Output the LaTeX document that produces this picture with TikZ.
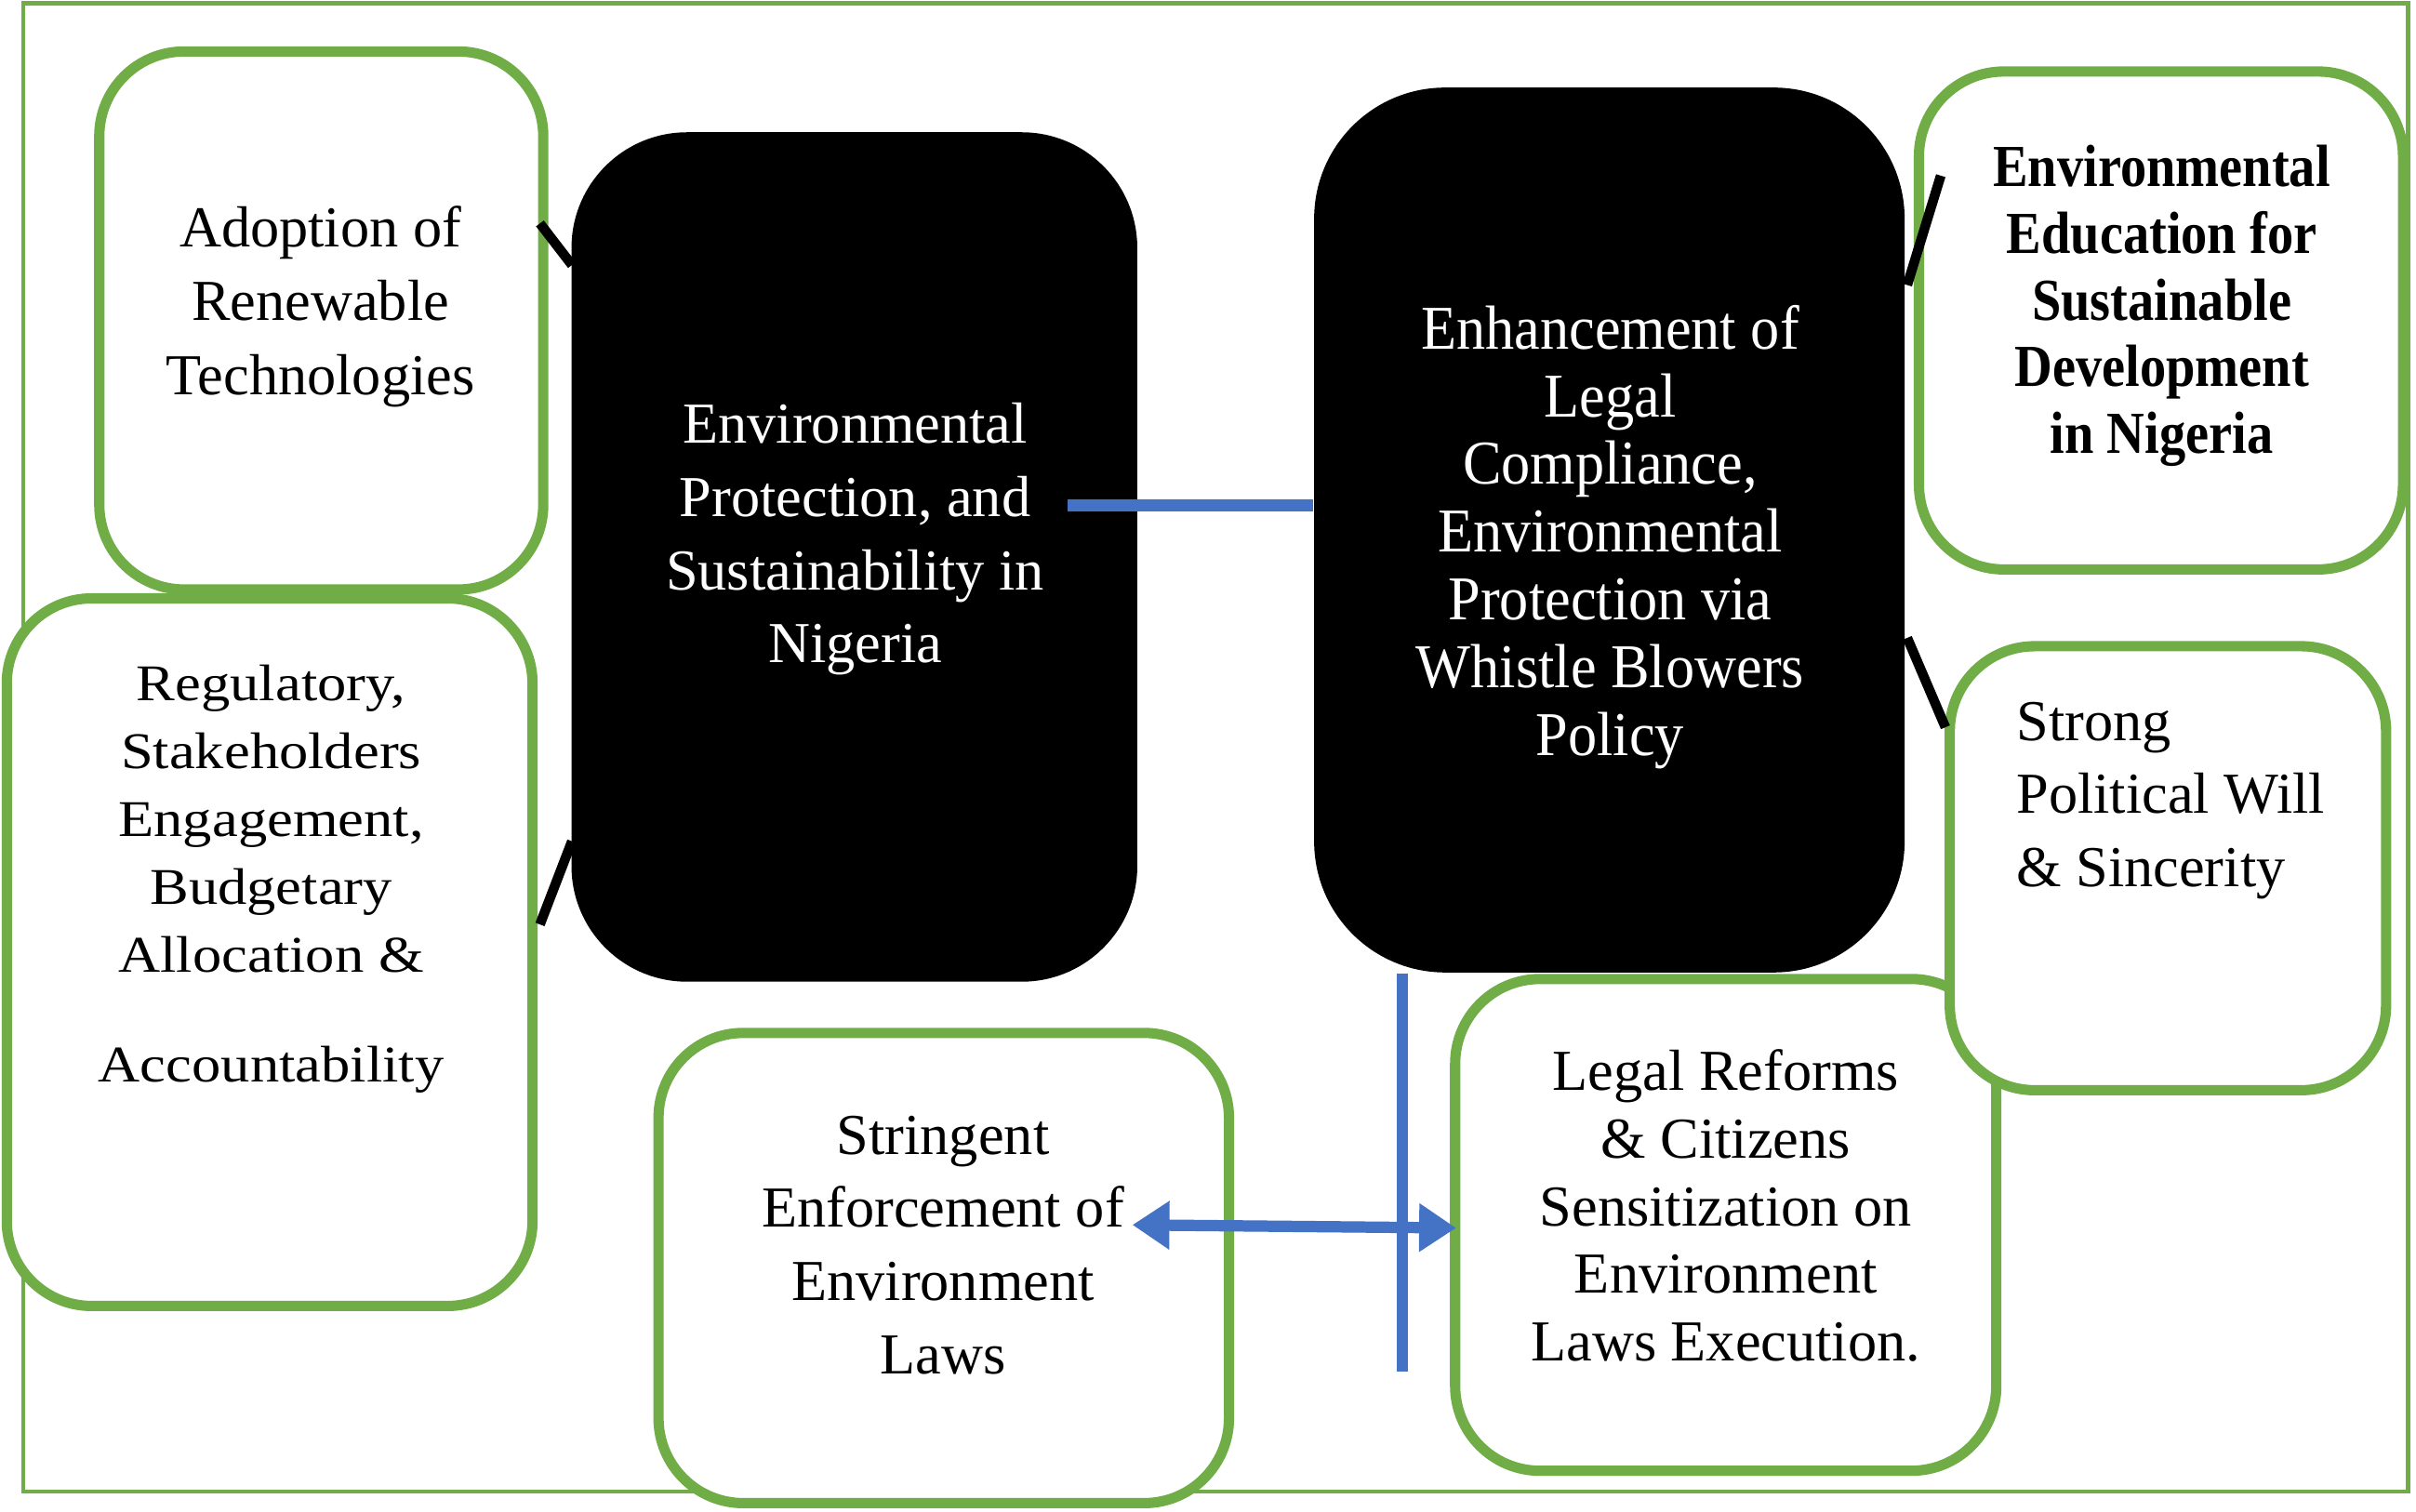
\documentclass[tikz,border=0pt]{standalone}
\usepackage{fontspec}
\setmainfont{Liberation Serif}
\newfontfamily\wideserif[FakeStretch=1.13]{Liberation Serif}
\newfontfamily\narrowserif[FakeStretch=0.93]{Liberation Serif}
\newfontfamily\condserif[FakeStretch=0.88]{Liberation Serif}
\usetikzlibrary{arrows.meta,calc}
\definecolor{boxgreen}{HTML}{70AD47}
\definecolor{linkblue}{HTML}{4472C4}
\begin{document}
\begin{tikzpicture}[x=0.01cm,y=-0.01cm,
  greenbox/.style={draw=boxgreen,line width=1.9pt,fill=white,rounded corners=0.55cm,inner sep=0pt},
  blackbox/.style={fill=black,draw=none,inner sep=0pt},
  txt/.style={inner sep=0pt,align=center,font=\fontsize{10.7}{13.5}\selectfont},
  blackline/.style={line width=1.8pt,black},
  blueline/.style={line width=2.1pt,linkblue},
  bluearrow/.style={blueline,{Triangle[length=0.24cm,width=0.3cm]}-{Triangle[length=0.24cm,width=0.3cm]}}
]
\useasboundingbox (0,0) rectangle (1568,981);
% frame
\draw[boxgreen,line width=0.8pt] (15,2) rectangle (1563,968);
% boxes
\node[greenbox,minimum width=2.88cm,minimum height=3.49cm] (adopt) at (208.5,208) {};
\node[greenbox,minimum width=3.41cm,minimum height=4.59cm] (reg) at (175,618) {};
\node[blackbox,rounded corners=0.75cm,minimum width=3.67cm,minimum height=5.51cm] (envA) at (554.5,361.5) {};
\node[blackbox,rounded corners=0.85cm,minimum width=3.83cm,minimum height=5.74cm] (envB) at (1044.5,344) {};
\node[greenbox,minimum width=3.51cm,minimum height=3.19cm] (legal) at (1120,795) {};
\node[greenbox,minimum width=2.83cm,minimum height=2.88cm] (strong) at (1407,563.5) {};
\node[greenbox,minimum width=3.14cm,minimum height=3.23cm] (edu) at (1402.5,208) {};
\node[greenbox,minimum width=3.70cm,minimum height=3.05cm] (string) at (612.5,823) {};
% connectors
\draw[blackline] ($(adopt.east)+(-5.5,-63)$) -- ($(envA.west)+(1,-189.5)$);
\draw[blackline] ($(reg.east)+(1.5,-18)$) -- ($(envA.west)+(1,184.5)$);
\draw[blueline] ($(envA.east)+(-46,-33.5)$) -- ($(envB.west)+(0,-16)$);
\draw[blackline] ($(envB.east)+(1,-159)$) -- ($(edu.west)+(17.5,-94)$);
\draw[blackline] ($(envB.east)+(1,70)$) -- ($(strong.west)+(0.5,-91.5)$);
\draw[bluearrow] ($(string.east)+(-66,-28)$) -- ($(legal.west)+(4,2)$);
\coordinate (vend) at (910,890);
\draw[blueline] ($(envB.south)+(-134.5,0)$) -- (vend);
% texts
\node[txt,font=\fontsize{10.7}{13.6}\selectfont] (adopttxt) at (208,199) {Adoption of\\Renewable\\Technologies};
\node[txt,font=\wideserif\fontsize{9.5}{12.5}\selectfont] (regtxt) at (176,570.5) {Regulatory,\\Stakeholders\\Engagement,\\Budgetary\\Allocation \&\\[7.7pt]Accountability};
\node[txt,text=white] (envAtxt) at (555,350) {Environmental\\Protection, and\\Sustainability in\\Nigeria};
\node[txt,text=white,font=\narrowserif\fontsize{11.5}{12.5}\selectfont] (envBtxt) at (1045,348.5) {Enhancement of\\Legal\\Compliance,\\Environmental\\Protection via\\Whistle Blowers\\Policy};
\node[txt,font=\condserif\bfseries\fontsize{11}{12.3}\selectfont] (edutxt) at (1403,198.5) {Environmental\\Education for\\Sustainable\\Development\\in Nigeria};
\node[txt,align=left,anchor=west] (strongtxt) at (1308,519.5) {Strong\\Political Will\\\& Sincerity};
\node[txt] (stringtxt) at (612,808) {Stringent\\Enforcement of\\Environment\\Laws};
\node[txt,font=\fontsize{10.7}{12.5}\selectfont] (legaltxt) at (1120,782.5) {Legal Reforms\\\& Citizens\\Sensitization on\\Environment\\Laws Execution.};
\end{tikzpicture}
\end{document}
